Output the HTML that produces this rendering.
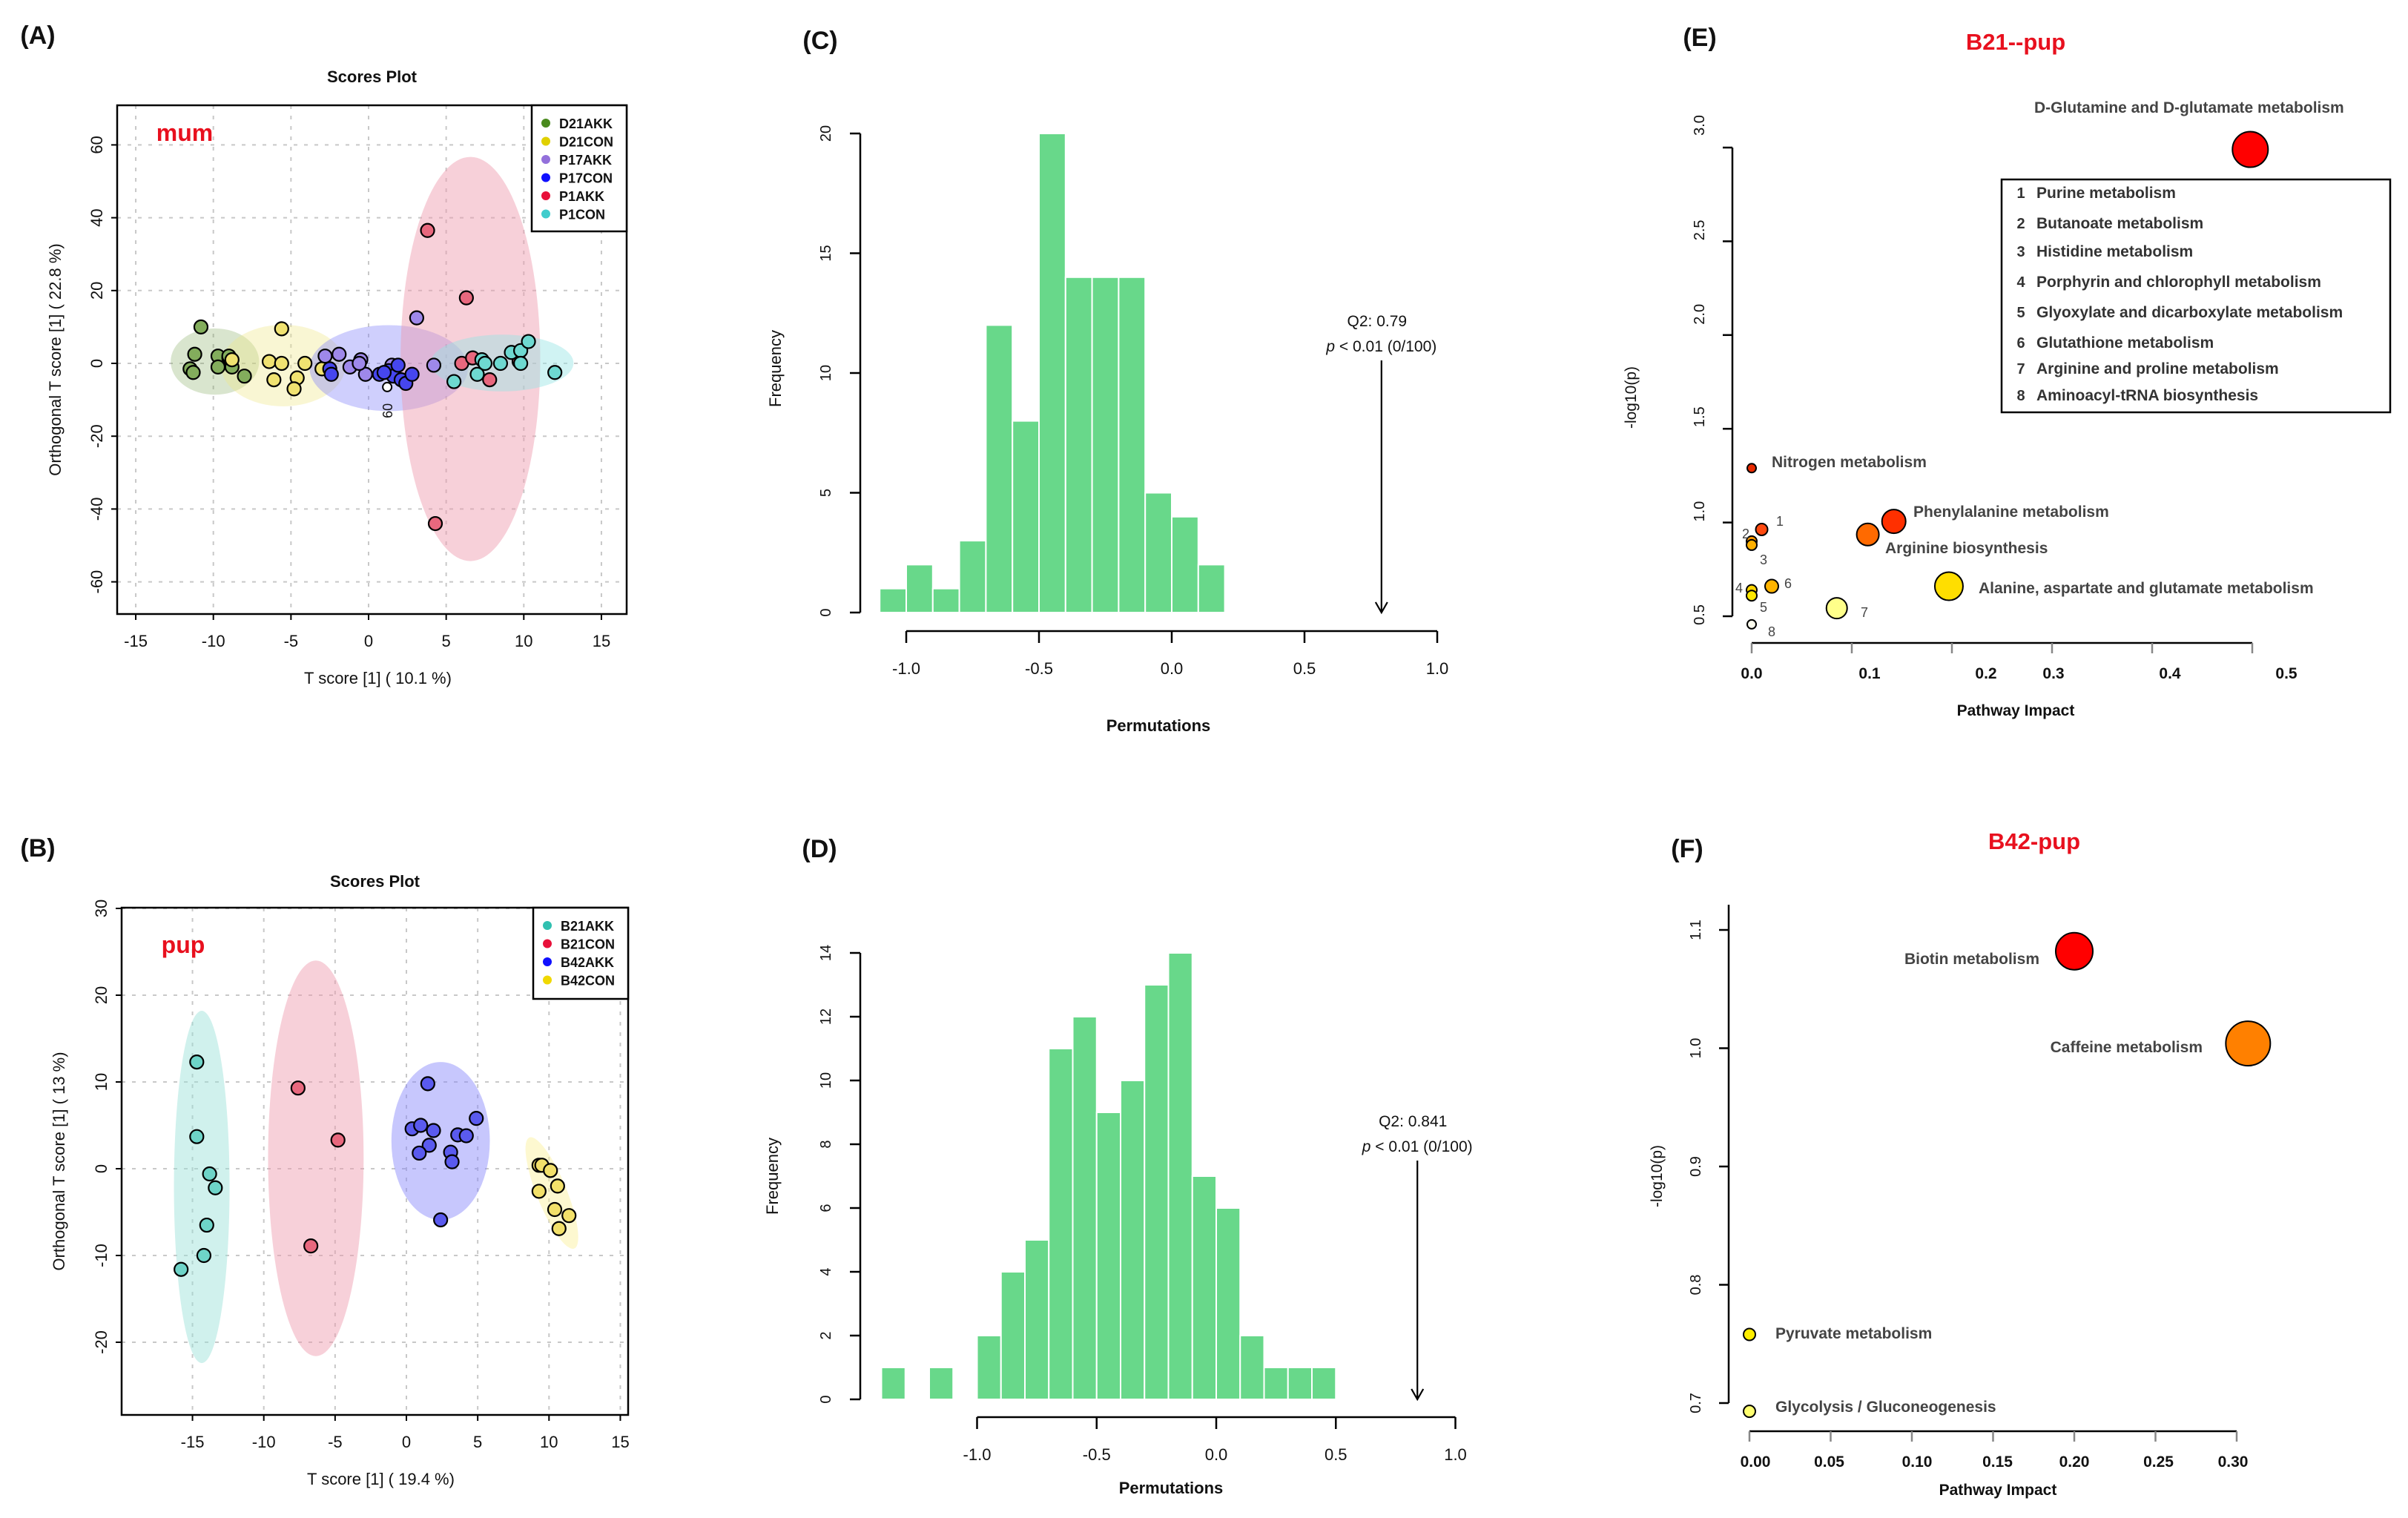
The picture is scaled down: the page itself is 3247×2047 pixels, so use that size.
<!DOCTYPE html>
<html><head><meta charset="utf-8"><style>
html,body{margin:0;padding:0;background:#fff;}
svg{display:block;font-family:"Liberation Sans",sans-serif;}
</style></head><body>
<svg id="fig" width="3247" height="2047" viewBox="0 0 3247 2047" xmlns="http://www.w3.org/2000/svg"></svg>
<script>
// ---------- DATA ----------
const aGroups = ["D21AKK","D21CON","P17AKK","P17CON","P1AKK","P1CON"];
const aD21AKK_x = [-10.8,-11.2,-11.5,-11.3,-9.7,-9.7,-9.0,-8.8,-8.0,-9.0];
const aD21AKK_y = [10,2.5,-1.5,-2.5,2,-1,1.5,-1,-3.5,2];
const aD21CON_x = [-5.6,-6.4,-5.6,-4.1,-6.1,-4.6,-4.8,-3.0,-8.8];
const aD21CON_y = [9.5,0.5,0,0,-4.5,-4,-7,-1.5,1];
const aP17AKK_x = [-2.8,-1.9,-0.5,-1.2,-0.2,3.1,4.2,-0.6,1.5];
const aP17AKK_y = [2,2.5,1,-1,-3,12.5,-0.5,0,-0.5];
const aP17CON_x = [-2.5,-2.4,0.7,1.3,1.6,1.9,2.1,2.4,2.8,1.0];
const aP17CON_y = [-1.5,-3,-3,-2,-3.5,-0.5,-4.5,-5.5,-3,-2.5];
const aP1AKK_x = [3.8,6.3,4.3,6.0,6.7,7.8,9.7];
const aP1AKK_y = [36.5,18,-44,0,1.5,-4.5,0.5];
const aP1CON_x = [5.5,7.3,7.5,7.0,8.5,9.2,9.8,10.3,9.8,12.0];
const aP1CON_y = [-5,1,0,-3,0,3,3.5,6,0,-2.5];
const aXTicks = [-15,-10,-5,0,5,10,15];
const aYTicks = [-60,-40,-20,0,20,40,60];
const bGroups = ["B21AKK","B21CON","B42AKK","B42CON"];
const bB21AKK_x = [-14.7,-14.7,-13.8,-13.4,-14.0,-14.2,-15.8];
const bB21AKK_y = [12.3,3.7,-0.6,-2.2,-6.5,-10,-11.6];
const bB21CON_x = [-7.6,-4.8,-6.7];
const bB21CON_y = [9.3,3.3,-8.9];
const bB42AKK_x = [1.5,0.4,1.0,1.9,3.6,4.2,4.9,1.6,0.9,3.1,3.2,2.4];
const bB42AKK_y = [9.8,4.6,5.0,4.4,3.9,3.8,5.8,2.7,1.8,1.9,0.8,-5.9];
const bB42CON_x = [9.3,9.5,10.1,10.6,9.3,10.4,11.4,10.7];
const bB42CON_y = [0.4,0.4,-0.2,-2.0,-2.6,-4.7,-5.4,-6.9];
const bXTicks = [-15,-10,-5,0,5,10,15];
const bYTicks = [-20,-10,0,10,20,30];
const cBinStart = -1.1;
const cCounts = [1,2,1,3,12,8,20,14,14,14,5,4,2];
const cXTicks = [-1.0,-0.5,0.0,0.5,1.0];
const cYTicks = [0,5,10,15,20];
const cQ2 = 0.79;
const dBinStart = -1.4;
const dCounts = [1,0,1,0,2,4,5,11,12,9,10,13,14,7,6,2,1,1,1];
const dXTicks = [-1.0,-0.5,0.0,0.5,1.0];
const dYTicks = [0,2,4,6,8,10,12,14];
const dQ2 = 0.841;
const eNames = ["D-Glutamine and D-glutamate metabolism","Nitrogen metabolism","Phenylalanine metabolism","Arginine biosynthesis","Alanine, aspartate and glutamate metabolism","7","1","2","3","4","5","6","8"];
const eImpact = [0.498,0,0.142,0.116,0.197,0.085,0.01,0,0,0,0,0.02,0];
const eLogP = [2.99,1.29,1.006,0.936,0.66,0.543,0.963,0.90,0.88,0.64,0.61,0.66,0.457];
const eSize = [24,6,16,15,19,14,8,7,7,7,7,9,6];
const eColor = ["#ff0000","#e82a00","#ff3000","#ff6a00","#ffde00","#ffff8a","#ff4a10","#ff9a00","#ffb000","#ffd400","#ffe800","#ffb400","#fffff0"];
const eXTicks = [0,0.1,0.2,0.3,0.4,0.5];
const eYTicks = [0.5,1.0,1.5,2.0,2.5,3.0];
const eLegend = ["Purine metabolism","Butanoate metabolism","Histidine metabolism","Porphyrin and chlorophyll metabolism","Glyoxylate and dicarboxylate metabolism","Glutathione metabolism","Arginine and proline metabolism","Aminoacyl-tRNA biosynthesis"];
const fNames = ["Biotin metabolism","Caffeine metabolism","Pyruvate metabolism","Glycolysis / Gluconeogenesis"];
const fImpact = [0.2,0.307,0,0];
const fLogP = [1.082,1.004,0.758,0.693];
const fSize = [25,30,8,8];
const fColor = ["#ff0000","#ff8000","#ffee00","#ffff70"];
const fXTicks = [0,0.05,0.10,0.15,0.20,0.25,0.30];
const fXLabels = ["0.00","0.05","0.10","0.15","0.20","0.25","0.30"];
const fYTicks = [0.7,0.8,0.9,1.0,1.1];

// ---------- HELPERS ----------
const NS="http://www.w3.org/2000/svg";
const svg=document.getElementById('fig');
function mk(tag,attrs,parent){const e=document.createElementNS(NS,tag);for(const k in attrs)e.setAttribute(k,attrs[k]);(parent||svg).appendChild(e);return e;}
function txt(x,y,s,size,opts,parent){opts=opts||{};const t=mk('text',{x:x,y:y,'font-size':size,'text-anchor':opts.anchor||'middle','font-weight':opts.weight||'normal',fill:opts.fill||'#111'},parent);if(opts.rot!==undefined)t.setAttribute('transform','rotate('+opts.rot+' '+x+' '+y+')');if(opts.italic)t.setAttribute('font-style','italic');t.textContent=s;return t;}
function lin(d0,d1,r0,r1){return v=>r0+(v-d0)*(r1-r0)/(d1-d0);}

[["(A)",51,47],["(B)",51,1143],["(C)",1106,54],["(D)",1105,1144],["(E)",2292,50],["(F)",2275,1144]].forEach(p=>{
 const t=txt(p[1],p[2]+12,p[0],34,{weight:'bold'});
 
 
});

function scores(cfg){
 const g=mk('g',{});
 
 
 const X=lin(0,1,cfg.x0,cfg.x0+cfg.xs), Y=lin(0,1,cfg.y0,cfg.y0-cfg.ys);
 cfg.xt.forEach(v=>{const l=mk('line',{x1:X(v),x2:X(v),y1:cfg.box[1],y2:cfg.box[3],stroke:'#c8c8c8','stroke-width':2,'stroke-dasharray':'5,9'},g);});
 cfg.yt.forEach(v=>{const l=mk('line',{x1:cfg.box[0],x2:cfg.box[2],y1:Y(v),y2:Y(v),stroke:'#c8c8c8','stroke-width':2,'stroke-dasharray':'5,9'},g);});
 cfg.ell.forEach(e=>{const el=mk('ellipse',{cx:X(e[0]),cy:Y(e[1]),rx:e[2]*cfg.xs,ry:e[3]*cfg.ys,fill:e[4]},g);if(e[5])el.setAttribute('transform','rotate('+e[5]+' '+X(e[0])+' '+Y(e[1])+')');});
 cfg.series.forEach(s=>{s.xs.forEach((xv,i)=>{const c=mk('circle',{cx:X(xv),cy:Y(s.ys[i]),r:9,fill:s.c,stroke:'#000','stroke-width':2.2},g);});});
 const b=mk('rect',{x:cfg.box[0],y:cfg.box[1],width:cfg.box[2]-cfg.box[0],height:cfg.box[3]-cfg.box[1],fill:'none',stroke:'#000','stroke-width':2.5},g);
 
 cfg.xt.forEach(v=>{mk('line',{x1:X(v),x2:X(v),y1:cfg.box[3],y2:cfg.box[3]+8,stroke:'#000','stroke-width':2},g);const t=txt(X(v),cfg.box[3]+44,String(v),22,{},g);});
 cfg.yt.forEach(v=>{mk('line',{x1:cfg.box[0]-8,x2:cfg.box[0],y1:Y(v),y2:Y(v),stroke:'#000','stroke-width':2},g);const t=txt(cfg.box[0]-20,Y(v),String(v),22,{rot:-90},g);});
 let t=txt((cfg.box[0]+cfg.box[2])/2,cfg.titleY,'Scores Plot',22,{weight:'bold'},g);
 t=txt((cfg.box[0]+cfg.box[2])/2+8,cfg.xlabY,cfg.xlab,22,{},g);
 t=txt(cfg.ylabX,(cfg.box[1]+cfg.box[3])/2,cfg.ylab,22,{rot:-90},g);
 t=txt(cfg.tag[1],cfg.tag[2],cfg.tag[0],32,{fill:'#e8101e',weight:'bold'},g);
 const L=cfg.leg;
 const lr=mk('rect',{x:L[0],y:L[1],width:L[2]-L[0],height:L[3]-L[1],fill:'#fff',stroke:'#000','stroke-width':2.5},g);
 
 cfg.series.forEach((s,i)=>{const yy=L[1]+24+i*cfg.legStep;
  const d=mk('circle',{cx:L[0]+19,cy:yy,r:6,fill:s.lc},g);
  const tt=txt(L[0]+37,yy+7,s.n,18,{anchor:'start',weight:'bold'},g);});
 return {g,X,Y};
}
const A=scores({name:'scores-plot-mum',x0:497,xs:20.93,y0:490,ys:4.91,box:[158,142,845,828],xt:aXTicks,yt:aYTicks,
 ell:[[-9.9,0.5,2.85,9.1,'rgba(120,160,80,0.28)'],[-5.5,-0.6,4.0,11.2,'rgba(240,232,140,0.38)'],[1.3,-1.3,5.1,11.8,'rgba(130,130,250,0.38)'],[6.56,1.2,4.5,55.5,'rgba(238,150,170,0.45)'],[8.6,0.1,4.6,7.8,'rgba(150,228,228,0.45)']],
 series:[{n:'D21AKK',xs:aD21AKK_x,ys:aD21AKK_y,c:'#83ad5c',lc:'#4a8a1e'},{n:'D21CON',xs:aD21CON_x,ys:aD21CON_y,c:'#f0e271',lc:'#e0d000'},{n:'P17AKK',xs:aP17AKK_x,ys:aP17AKK_y,c:'#9e88ea',lc:'#9370db'},{n:'P17CON',xs:aP17CON_x,ys:aP17CON_y,c:'#4646ee',lc:'#1010ff'},{n:'P1AKK',xs:aP1AKK_x,ys:aP1AKK_y,c:'#e8687e',lc:'#e8103a'},{n:'P1CON',xs:aP1CON_x,ys:aP1CON_y,c:'#6ed8d0',lc:'#40cccc'}],
 titleY:111,xlab:'T score [1] ( 10.1 %)',xlabY:922,ylab:'Orthogonal T score [1] ( 22.8 %)',ylabX:82,tag:['mum',249,190],leg:[717,142,845,312],legStep:24.5});
(function(){const c=mk('circle',{cx:A.X(1.2),cy:A.Y(-6.5),r:6,fill:'#fff',stroke:'#000','stroke-width':2});
 const t=txt(A.X(1.2)+7,A.Y(-13),'60',18,{rot:-90});})();
scores({name:'scores-plot-pup',x0:548,xs:19.23,y0:1576,ys:11.7,box:[164,1224,847,1908],xt:bXTicks,yt:bYTicks,
 ell:[[-14.35,-2.1,1.95,20.3,'rgba(150,225,215,0.45)'],[-6.35,1.2,3.35,22.8,'rgba(238,150,170,0.45)'],[2.4,3.2,3.45,9.1,'rgba(130,130,250,0.45)'],[10.2,-2.8,1.05,6.9,'rgba(250,240,150,0.45)',-22]],
 series:[{n:'B21AKK',xs:bB21AKK_x,ys:bB21AKK_y,c:'#6ed4c8',lc:'#30c0b0'},{n:'B21CON',xs:bB21CON_x,ys:bB21CON_y,c:'#e8687e',lc:'#e8103a'},{n:'B42AKK',xs:bB42AKK_x,ys:bB42AKK_y,c:'#5a5aee',lc:'#1010ff'},{n:'B42CON',xs:bB42CON_x,ys:bB42CON_y,c:'#f2e06a',lc:'#f0d800'}],
 titleY:1196,xlab:'T score [1] ( 19.4 %)',xlabY:2002,ylab:'Orthogonal T score [1] ( 13 %)',ylabX:87,tag:['pup',247,1285],leg:[719,1224,847,1347],legStep:24.5});

function hist(cfg){
 const g=mk('g',{});
 const X=lin(0,1,cfg.x0,cfg.x0+cfg.xs), Y=lin(0,1,cfg.y0,cfg.y0-cfg.ys);
 cfg.counts.forEach((c,i)=>{if(!c)return;const xa=X(cfg.start+i*0.1),xb=X(cfg.start+(i+1)*0.1);
  const r=mk('rect',{x:xa,y:Y(c),width:xb-xa,height:Y(0)-Y(c),fill:'#68d88a',stroke:'#fff','stroke-width':2},g);});
 const ya=mk('line',{x1:cfg.yax,x2:cfg.yax,y1:Y(cfg.yt[0]),y2:Y(cfg.yt[cfg.yt.length-1]),stroke:'#000','stroke-width':2.5},g);
 cfg.yt.forEach(v=>{mk('line',{x1:cfg.yax-14,x2:cfg.yax,y1:Y(v),y2:Y(v),stroke:'#000','stroke-width':2.5},g);const t=txt(cfg.yax-40,Y(v),String(v),20,{rot:-90},g);});
 const xa=mk('line',{x1:X(cfg.xt[0]),x2:X(cfg.xt[cfg.xt.length-1]),y1:cfg.xay,y2:cfg.xay,stroke:'#000','stroke-width':2.5},g);
 cfg.xt.forEach(v=>{mk('line',{x1:X(v),x2:X(v),y1:cfg.xay,y2:cfg.xay+16,stroke:'#000','stroke-width':2.5},g);const t=txt(X(v),cfg.xay+58,v.toFixed(1),22,{},g);});
 const ax=X(cfg.q2);
 const ar=mk('path',{d:'M'+ax+' '+cfg.arrTop+' L'+ax+' '+Y(0)+' M'+(ax-8)+' '+(Y(0)-14)+' L'+ax+' '+Y(0)+' L'+(ax+8)+' '+(Y(0)-14),stroke:'#000','stroke-width':2.2,fill:'none'},g);
 let t=txt(ax-6,cfg.arrTop-46,'Q2: '+cfg.q2,21,{},g);
 t=mk('text',{x:ax,y:cfg.arrTop-12,'font-size':21,'text-anchor':'middle',fill:'#111'},g);
 const ts=mk('tspan',{'font-style':'italic'},t);ts.textContent='p';const t2=mk('tspan',{},t);t2.textContent=' < 0.01 (0/100)';
 t=txt(cfg.xlab[0],cfg.xlab[1],'Permutations',22,{weight:'bold'},g);
 t=txt(cfg.ylab[0],cfg.ylab[1],'Frequency',22,{rot:-90},g);
}
hist({name:'permutation-histogram-c',x0:1580,xs:358,y0:826,ys:32.3,start:cBinStart,counts:cCounts,xt:cXTicks,yt:cYTicks,q2:cQ2,yax:1160,xay:851,arrTop:486,xlab:[1562,986],ylab:[1053,497]});
hist({name:'permutation-histogram-d',x0:1640,xs:322.5,y0:1887,ys:43,start:dBinStart,counts:dCounts,xt:dXTicks,yt:dYTicks,q2:dQ2,yax:1160,xay:1911,arrTop:1565,xlab:[1579,2014],ylab:[1049,1586]});

function pathway(cfg){
 const g=mk('g',{});
 const X=lin(0,1,cfg.x0,cfg.x0+cfg.xs), Y=lin(cfg.yb,cfg.yb+1,cfg.y0,cfg.y0-cfg.ys);
 const ya=mk('line',{x1:cfg.yax,x2:cfg.yax,y1:cfg.yr[0],y2:cfg.yr[1],stroke:'#000','stroke-width':2.5},g);
 cfg.yt.forEach((v,i)=>{mk('line',{x1:cfg.yax-13,x2:cfg.yax,y1:Y(v),y2:Y(v),stroke:'#000','stroke-width':2.5},g);const t=txt(cfg.yax-38,Y(v)+(cfg.yoff?cfg.yoff[i]:0),v.toFixed(1),20,{rot:-90},g);});
 const xa=mk('line',{x1:X(cfg.xt[0]),x2:X(cfg.xt[cfg.xt.length-1]),y1:cfg.xay,y2:cfg.xay,stroke:'#000','stroke-width':2.5},g);
 cfg.xt.forEach((v,i)=>{mk('line',{x1:X(v),x2:X(v),y1:cfg.xay,y2:cfg.xay+14,stroke:'#888','stroke-width':2.5},g);const t=txt(X(v)+(cfg.xoff?cfg.xoff[i]:0),cfg.xay+48,cfg.xl[i],21,{weight:'bold'},g);});
 cfg.imp.forEach((v,i)=>{const c=mk('circle',{cx:X(v),cy:Y(cfg.lp[i]),r:cfg.sz[i],fill:cfg.col[i],stroke:'#000','stroke-width':2},g);});
 let t=txt(cfg.xlab[0],cfg.xlab[1],'Pathway Impact',21,{weight:'bold'},g);
 t=txt(cfg.ylab[0],cfg.ylab[1],'-log10(p)',21,{rot:-90},g);
 t=txt(cfg.title[1],cfg.title[2],cfg.title[0],31,{weight:'bold',fill:'#e8101e'},g);
 cfg.labels.forEach(l=>{const tt=txt(l[1],l[2],l[0],l[4]||21,{anchor:l[3]||'start',fill:'#444',weight:l[4]?'normal':'bold'},g);});
 return g;
}
pathway({name:'pathway-plot-b21',x0:2362,xs:1350,yb:0.5,y0:831,ys:252.8,yax:2336,yr:[199,831],xay:867,xt:eXTicks,xl:['0.0','0.1','0.2','0.3','0.4','0.5'],xoff:[0,24,46,2,24,46],yt:eYTicks,yoff:[-2,-15,-16,-28,-15,-30],
 imp:eImpact,lp:eLogP,sz:eSize,col:eColor,xlab:[2718,965],ylab:[2206,536],title:['B21--pup',2718,67],
 labels:[[eNames[0],2743,152],[eNames[1],2389,630],[eNames[2],2580,697],[eNames[3],2542,746],[eNames[4],2668,800],['1',2395,709,'start',18],['2',2349,726,'start',18],['3',2373,761,'start',18],['4',2340,799,'start',18],['5',2373,825,'start',18],['6',2406,793,'start',18],['7',2509,832,'start',18],['8',2384,858,'start',18]]});
(function(){const r=mk('rect',{x:2699,y:242,width:524,height:314,fill:'none',stroke:'#000','stroke-width':2.5});
 const ys=[260,301,339,380,421,462,497,533];
 eLegend.forEach((s,i)=>{const n=txt(2725,ys[i]+7,String(i+1),20,{anchor:'middle',fill:'#333',weight:'bold'});
  const t=txt(2746,ys[i]+7,s,21,{anchor:'start',fill:'#333',weight:'bold'});});})();
pathway({name:'pathway-plot-b42',x0:2359,xs:2190,yb:0.7,y0:1892,ys:1595,yax:2331,yr:[1220,1892],xay:1930,xt:fXTicks,xl:fXLabels,xoff:[8,-2,7,6,0,4,-5],yt:fYTicks,
 imp:fImpact,lp:fLogP,sz:fSize,col:fColor,xlab:[2694,2016],ylab:[2241,1586],title:['B42-pup',2743,1145],
 labels:[[fNames[0],2750,1300,'end'],[fNames[1],2970,1419,'end'],[fNames[2],2394,1805],[fNames[3],2394,1904]]});
</script>
</body></html>
